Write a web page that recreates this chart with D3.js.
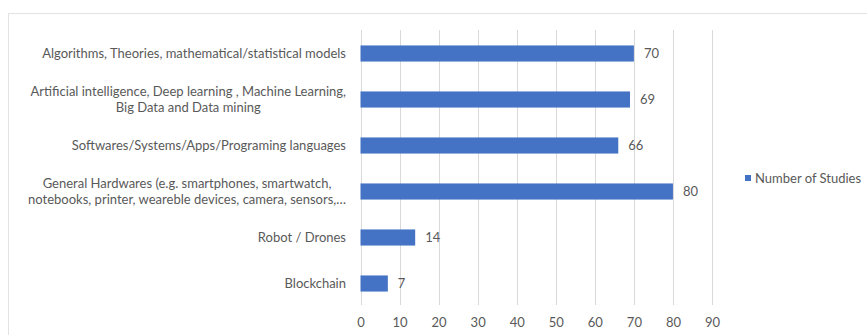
<!DOCTYPE html>
<html><head><meta charset="utf-8">
<script src="https://cdn.jsdelivr.net/npm/d3@7"></script>
<style>body{margin:0;background:#fff}</style>
</head><body>
<script>
const categories = [
  ["Algorithms, Theories, mathematical/statistical models"],
  ["Artificial intelligence, Deep learning , Machine Learning,", "Big Data and Data mining"],
  ["Softwares/Systems/Apps/Programing languages"],
  ["General Hardwares (e.g. smartphones, smartwatch,", "notebooks, printer, weareble devices, camera, sensors,…"],
  ["Robot / Drones"],
  ["Blockchain"]
];
const values = [70, 69, 66, 80, 14, 7];
const xTicks = [0, 10, 20, 30, 40, 50, 60, 70, 80, 90];
const seriesName = "Number of Studies";

const W = 867, H = 335;
const font = "Lato, 'Open Sans', sans-serif";
const fs = 13;
const svg = d3.select("body").append("svg").attr("width", W).attr("height", H);

svg.append("rect").attr("x", 8.5).attr("y", 13.5).attr("width", W).attr("height", H)
  .attr("fill", "#fff").attr("stroke", "#e3e3e3");

const x = d3.scaleLinear().domain([0, 90]).range([360.5, 712]);
const y = d3.scaleBand().domain(d3.range(categories.length)).range([30.5, 306.5]).paddingInner(0.65).paddingOuter(0.325);

// gridlines
svg.append("g").selectAll("line").data(xTicks).join("line")
  .attr("x1", d => Math.round(x(d)) + 0.5).attr("x2", d => Math.round(x(d)) + 0.5)
  .attr("y1", 30).attr("y2", 305).attr("stroke", "#d9d9d9");

// axis labels
const xAxis = d3.axisBottom(x).tickValues(xTicks).tickSize(0).tickPadding(0);
const ax = svg.append("g").attr("transform", "translate(0,318)").call(xAxis);
ax.select(".domain").remove();
ax.selectAll("text").attr("fill", "#595959").style("font-family", font).style("font-size", fs + "px");

// bars
svg.append("g").selectAll("rect").data(values).join("rect")
  .attr("x", x(0)).attr("y", (d, i) => y(i)).attr("width", d => x(d) - x(0)).attr("height", y.bandwidth())
  .attr("fill", "#4472c4");

// value labels
svg.append("g").selectAll("text").data(values).join("text")
  .attr("x", d => x(d) + 10).attr("y", (d, i) => y(i) + y.bandwidth() / 2).attr("dy", "0.35em")
  .attr("fill", "#595959").style("font-family", font).style("font-size", fs + "px").text(d => d);

// category labels
const rightEdge = 346, lh = 16;
categories.forEach((lines, i) => {
  const g = svg.append("g");
  const cy = y(i) + y.bandwidth() / 2;
  const ts = lines.map((l, j) => g.append("text")
    .attr("y", cy + (j - (lines.length - 1) / 2) * lh).attr("dy", "0.35em")
    .attr("fill", "#595959").style("font-family", font).style("font-size", fs + "px").text(l));
  if (lines.length === 1) {
    ts[0].attr("x", rightEdge).attr("text-anchor", "end");
  } else {
    const maxW = d3.max(ts, t => t.node().getComputedTextLength());
    ts.forEach(t => t.attr("x", rightEdge - maxW / 2).attr("text-anchor", "middle"));
  }
});

// legend
const lg = svg.append("g").attr("transform", "translate(745,178)");
lg.append("rect").attr("x", 0).attr("y", -3).attr("width", 6).attr("height", 6).attr("fill", "#4472c4");
lg.append("text").attr("x", 10).attr("y", 0).attr("dy", "0.35em").attr("fill", "#595959")
  .style("font-family", font).style("font-size", fs + "px").text(seriesName);
</script>
</body></html>
